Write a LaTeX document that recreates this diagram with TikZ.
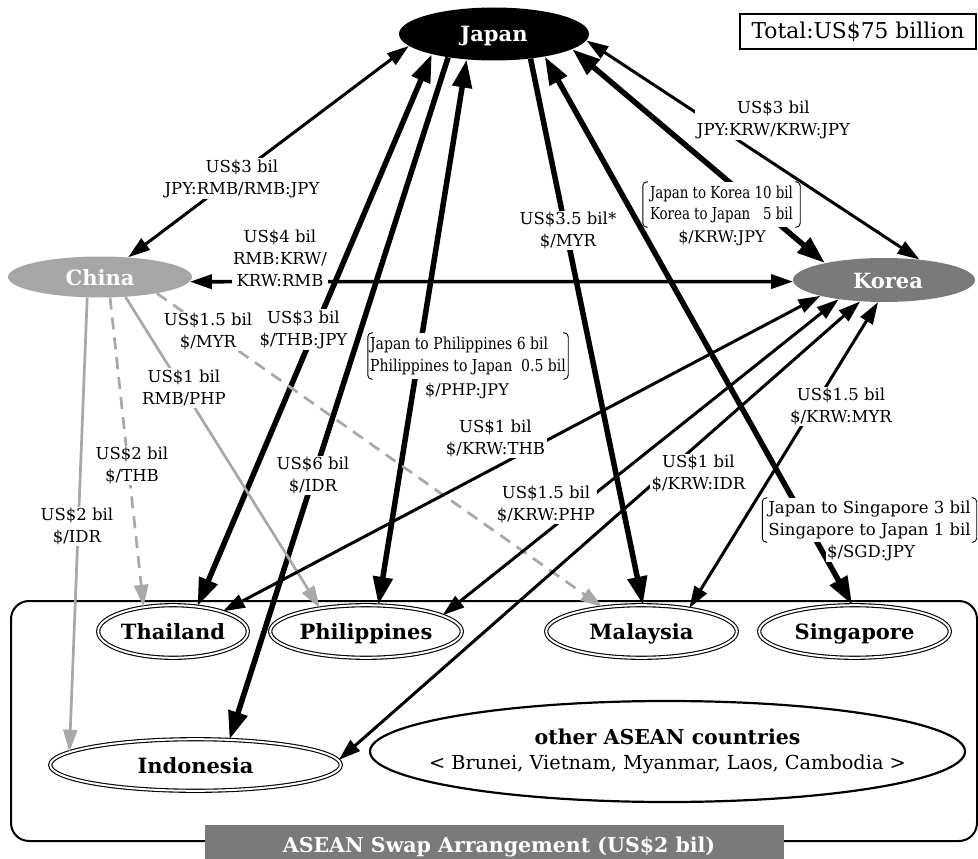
\documentclass[tikz,border=0pt]{standalone}
\usepackage{fontspec}
\setmainfont{DejaVu Serif}
\usetikzlibrary{arrows.meta,shapes.geometric}
\definecolor{chinagray}{HTML}{A6A6A6}
\definecolor{koreagray}{HTML}{7A7A7A}
\definecolor{edgegray}{HTML}{A8A8A8}
\tikzset{
  tS/.tip={Triangle[length=22pt,width=14pt]},
  tL/.tip={Triangle[length=28pt,width=19pt]},
  nodefont/.style={font=\fontsize{21}{25}\selectfont\bfseries, text height=16pt, text depth=0pt},
  country/.style={ellipse, draw=black, line width=1.1pt, double=white, double distance=2pt, inner sep=0pt, nodefont},
  bigc/.style={ellipse, inner sep=0pt, text=white, nodefont},
  lbl/.style={fill=white, inner sep=1.5pt, align=center, font=\fontsize{16.5}{22}\selectfont},
  brk/.style={fill=white, inner sep=0pt},
  thinE/.style={line width=3pt},
  midE/.style={line width=3.6pt},
  thickE/.style={line width=5.5pt},
  grayE/.style={draw=edgegray, line width=2.7pt},
  dashE/.style={grayE, dash pattern=on 12pt off 8pt},
  brline/.style={line width=0.9pt, rounded corners=4pt}
}
\begin{document}
\begin{tikzpicture}[x=1pt,y=-1pt]
\useasboundingbox (0,0) rectangle (978,859);

% ASEAN container
\node[draw, rounded corners=18pt, line width=2pt, minimum width=966, minimum height=240, inner sep=0] (asean) at (494,721) {};
\node[fill=koreagray, minimum width=579, minimum height=34, inner sep=0] (aseanbar) at (494.5,842) {};
\node[anchor=base, text=white, inner sep=0, font=\fontsize{20.5}{24}\selectfont\bfseries] (aseanlbl) at (499,852) {ASEAN Swap Arrangement (US\$2 bil)};

% total box
\node[draw, line width=1.3pt, minimum width=236, minimum height=35, inner sep=0, font=\fontsize{21.8}{25}\selectfont] (total) at (858,31.5) {Total:US\$75 billion};

% main nodes
\node[bigc, fill=black, minimum width=190, minimum height=53] (japan) at (494,34) {Japan};
\node[bigc, fill=chinagray, minimum width=184, minimum height=41] (china) at (100,277) {China};
\node[bigc, fill=koreagray, minimum width=182, minimum height=44] (korea) at (884,280) {\hspace*{8pt}Korea};

\node[country, minimum width=149.6, minimum height=52.6] (thai) at (173,631.5) {Thailand};
\node[country, minimum width=191.6, minimum height=52.6] (phil) at (366,631.5) {Philippines};
\node[country, minimum width=190.6, minimum height=52.6] (mala) at (641.5,631.5) {Malaysia};
\node[country, minimum width=190.6, minimum height=52.6] (sing) at (854.5,631.5) {Singapore};
\node[country, minimum width=290.6, minimum height=51.6] (indo) at (195.5,765) {Indonesia};
\node[ellipse, draw, line width=2.2pt, minimum width=595, minimum height=101, inner sep=0, align=center,
      font=\fontsize{20.5}{25}\selectfont] (other) at (667.5,751.5)
  {\makebox[0pt][c]{\bfseries other ASEAN countries}\\\makebox[0pt][c]{\fontsize{19.3}{25}\selectfont < Brunei, Vietnam, Myanmar, Laos, Cambodia >}};

% Japan edges
\draw[thinE, tS-tS] (japan.188.3) -- (china.35.5);
\draw[thickE, tL-tL] (japan.198.7) -- (thai.46.5);
\draw[thickE, -tL] (japan.207) -- (indo.37.7);
\draw[thickE, tL-tL] (japan.223.9) -- (phil.65.3);
\draw[thickE, -tL] (japan.326.3) -- (mala.87);
\draw[thickE, tL-tL] (japan.336.5) -- (sing.95.4);
\draw[thickE, tL-tL] (japan.349.5) -- (korea.164.9);
\draw[thinE, tS-tS] (japan.356.3) -- (korea.30.7);
% China - Korea
\draw[midE, tS-tS] (china.-3.2) -- (korea.181.3);
% China edges
\draw[grayE, -tS] (china.238.8) -- (indo.174.6);
\draw[dashE, -tS] (china.296.7) -- (thai.140);
\draw[grayE, -tS] (china.322.5) -- (phil.153.3);
\draw[dashE, -tS] (china.344.6) -- (mala.148);
% Korea edges
\draw[thinE, tS-tS] (korea.194.2) -- (thai.22);
\draw[thinE, tS-tS] (korea.203.5) -- (phil.12.7);
\draw[thinE, tS-tS] (korea.222.5) -- (indo.2.8);
\draw[thinE, tS-tS] (korea.255.4) -- (mala.26.3);

% labels
\node[lbl] (l1) at (242,178.5) {US\$3 bil\\JPY:RMB/RMB:JPY};
\node[lbl] (l2) at (280,258) {US\$4 bil\\RMB:KRW/\\KRW:RMB};
\node[lbl] (l3) at (773.5,120) {US\$3 bil\\JPY:KRW/KRW:JPY};
\node[lbl] (l4) at (568,230.5) {US\$3.5 bil*\\\$/MYR};
\node[lbl] (l5) at (303.5,329.5) {US\$3 bil\\\$/THB:JPY};
\node[lbl] (l6) at (208,331.5) {US\$1.5 bil\\\$/MYR};
\node[lbl] (l7) at (184,388) {US\$1 bil\\RMB/PHP};
\node[lbl] (l8) at (132,465.5) {US\$2 bil\\\$/THB};
\node[lbl] (l9) at (77,526.5) {US\$2 bil\\\$/IDR};
\node[lbl] (l10) at (313,475.5) {US\$6 bil\\\$/IDR};
\node[lbl] (l11) at (495.5,438) {US\$1 bil\\\$/KRW:THB};
\node[lbl] (l12) at (546,504.5) {US\$1.5 bil\\\$/KRW:PHP};
\node[lbl] (l13) at (698.5,473.5) {US\$1 bil\\\$/KRW:IDR};
\node[lbl] (l14) at (841,406.5) {US\$1.5 bil\\\$/KRW:MYR};

% bracketed labels
\node[brk, minimum width=157, minimum height=45, font=\fontsize{16.5}{21}\selectfont] (kjb) at (721.5,204.5)
  {\scalebox{0.81}[1]{\begin{tabular}{@{}l@{\ }r@{}}Japan to Korea & 10 bil\\Korea to Japan & 5 bil\end{tabular}}};
\node[lbl, font=\fontsize{16}{21}\selectfont] (kj3) at (722,238) {\$/KRW:JPY};

\node[brk, minimum width=200, minimum height=46, font=\fontsize{16.5}{22}\selectfont] (pjb) at (468,356)
  {\scalebox{0.85}[1]{\begin{tabular}{@{}l@{}}Japan to Philippines 6 bil\\Philippines to Japan~~0.5 bil\end{tabular}}};
\node[lbl, font=\fontsize{16}{21}\selectfont] (pj3) at (467,391) {\$/PHP:JPY};

\node[brk, minimum width=214, minimum height=44, align=left, font=\fontsize{16.5}{22}\selectfont] (sjb) at (869.5,520)
  {Japan to Singapore 3 bil\\Singapore to Japan 1 bil};
\node[lbl] (sj3) at (871,552.5) {\$/SGD:JPY};

\foreach \b in {kjb,pjb,sjb}{
  \draw[brline] ([xshift=5pt]\b.north west) -- (\b.north west) -- (\b.south west) -- ([xshift=5pt]\b.south west);
  \draw[brline] ([xshift=-5pt]\b.north east) -- (\b.north east) -- (\b.south east) -- ([xshift=-5pt]\b.south east);
}
\end{tikzpicture}
\end{document}
